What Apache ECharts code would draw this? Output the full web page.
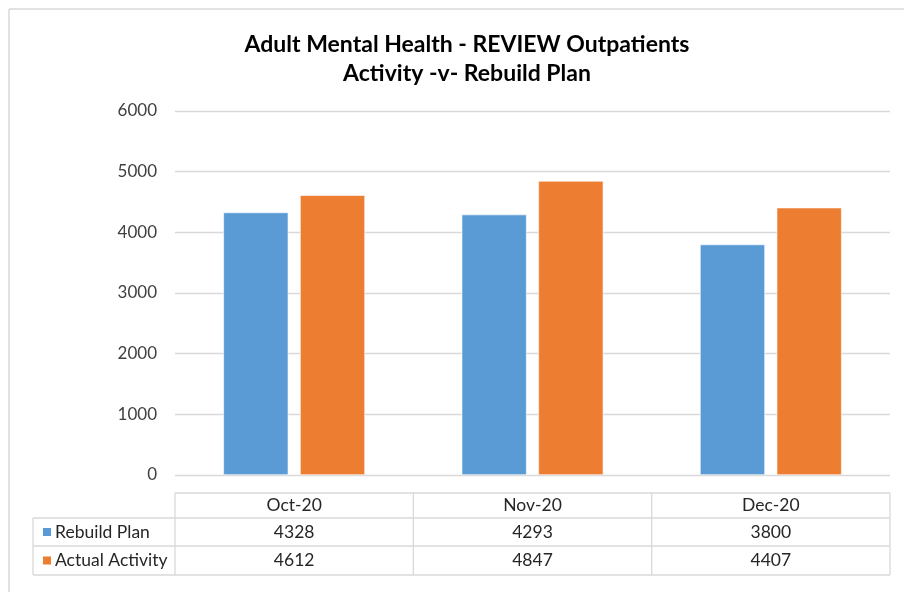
<!DOCTYPE html>
<html>
<head>
<meta charset="utf-8">
<script src="https://cdn.jsdelivr.net/npm/echarts@6/dist/echarts.min.js"></script>
<style>html,body{margin:0;padding:0;background:#fff;}#c{width:904px;height:592px;}</style>
</head>
<body>
<div id="c"></div>
<script>
var titleLines = ['Adult Mental Health - REVIEW Outpatients', 'Activity -v- Rebuild Plan'];
var categories = ['Oct-20', 'Nov-20', 'Dec-20'];
var seriesNames = ['Rebuild Plan', 'Actual Activity'];
var rebuildPlan = [4328, 4293, 3800];
var actualActivity = [4612, 4847, 4407];
var yTicks = [0, 1000, 2000, 3000, 4000, 5000, 6000];
var colors = ['#5B9BD5', '#ED7D31'];

var FONT = 'Lato, "Open Sans", sans-serif';
var chart = echarts.init(document.getElementById('c'), null, {renderer: 'canvas'});

var gridLeft = 175, gridRight = 890, gridTop = 111, gridBottom = 475;
var tableTop = 493, rowH = [25, 28, 29], labelColLeft = 33;

function buildTable() {
  var g = [];
  var lineStyle = {stroke: '#d9d9d9', lineWidth: 1.3};
  var colW = (gridRight - gridLeft) / categories.length;
  var y0 = tableTop, y1 = y0 + rowH[0], y2 = y1 + rowH[1], y3 = y2 + rowH[2];
  g.push({type: 'line', shape: {x1: gridLeft, y1: y0, x2: gridRight, y2: y0}, style: lineStyle, silent: true});
  g.push({type: 'line', shape: {x1: labelColLeft, y1: y1, x2: gridRight, y2: y1}, style: lineStyle, silent: true});
  g.push({type: 'line', shape: {x1: labelColLeft, y1: y2, x2: gridRight, y2: y2}, style: lineStyle, silent: true});
  g.push({type: 'line', shape: {x1: labelColLeft, y1: y3, x2: gridRight, y2: y3}, style: lineStyle, silent: true});
  g.push({type: 'line', shape: {x1: labelColLeft, y1: y1, x2: labelColLeft, y2: y3}, style: lineStyle, silent: true});
  for (var i = 0; i <= categories.length; i++) {
    var x = gridLeft + colW * i;
    g.push({type: 'line', shape: {x1: x, y1: y0, x2: x, y2: y3}, style: lineStyle, silent: true});
  }
  var rowsY = [(y0 + y1) / 2, (y1 + y2) / 2, (y2 + y3) / 2];
  var textStyleBase = {fill: '#262626', font: '17.5px ' + FONT, align: 'center', verticalAlign: 'middle'};
  categories.forEach(function (c, i) {
    g.push({type: 'text', x: gridLeft + colW * (i + 0.5), y: rowsY[0], style: Object.assign({text: c}, textStyleBase), silent: true});
  });
  var values = [rebuildPlan, actualActivity];
  values.forEach(function (arr, r) {
    arr.forEach(function (v, i) {
      g.push({type: 'text', x: gridLeft + colW * (i + 0.5), y: rowsY[r + 1], style: Object.assign({text: String(v)}, textStyleBase), silent: true});
    });
    g.push({type: 'rect', shape: {x: 43, y: rowsY[r + 1] - 4, width: 8, height: 8}, style: {fill: colors[r]}, silent: true});
    g.push({type: 'text', x: 55, y: rowsY[r + 1], style: {text: seriesNames[r], fill: '#262626', font: '17.5px ' + FONT, align: 'left', verticalAlign: 'middle'}, silent: true});
  });
  g.push({type: 'line', shape: {x1: 9, y1: 9, x2: 904, y2: 9}, style: {stroke: '#d9d9d9', lineWidth: 1.5}, silent: true});
  g.push({type: 'line', shape: {x1: 9, y1: 9, x2: 9, y2: 592}, style: {stroke: '#d9d9d9', lineWidth: 1.5}, silent: true});
  return g;
}

chart.setOption({
  backgroundColor: '#ffffff',
  animation: false,
  title: {
    text: titleLines.join('\n'),
    left: 462, top: 25, textAlign: 'center',
    textStyle: {fontFamily: FONT, fontWeight: 'bold', fontSize: 23, color: '#000', lineHeight: 29}
  },
  grid: {left: gridLeft, right: 904 - gridRight, top: gridTop, bottom: 592 - gridBottom, containLabel: false},
  xAxis: {
    type: 'category', data: categories,
    axisLine: {show: false}, axisTick: {show: false}, axisLabel: {show: false}
  },
  yAxis: {
    type: 'value', min: yTicks[0], max: yTicks[yTicks.length - 1], interval: 1000,
    axisLine: {show: false}, axisTick: {show: false},
    axisLabel: {color: '#404040', fontFamily: FONT, fontSize: 17, margin: 18, formatter: function (v) { return String(v); }},
    splitLine: {lineStyle: {color: '#d9d9d9', width: 1.3}}
  },
  series: [
    {name: seriesNames[0], type: 'bar', data: rebuildPlan, barWidth: 65, barGap: '18%',
     itemStyle: {color: colors[0], borderColor: '#ffffff', borderWidth: 0.6}},
    {name: seriesNames[1], type: 'bar', data: actualActivity, barWidth: 65, barGap: '18%',
     itemStyle: {color: colors[1], borderColor: '#ffffff', borderWidth: 0.6}}
  ],
  graphic: buildTable()
});
</script>
</body>
</html>
